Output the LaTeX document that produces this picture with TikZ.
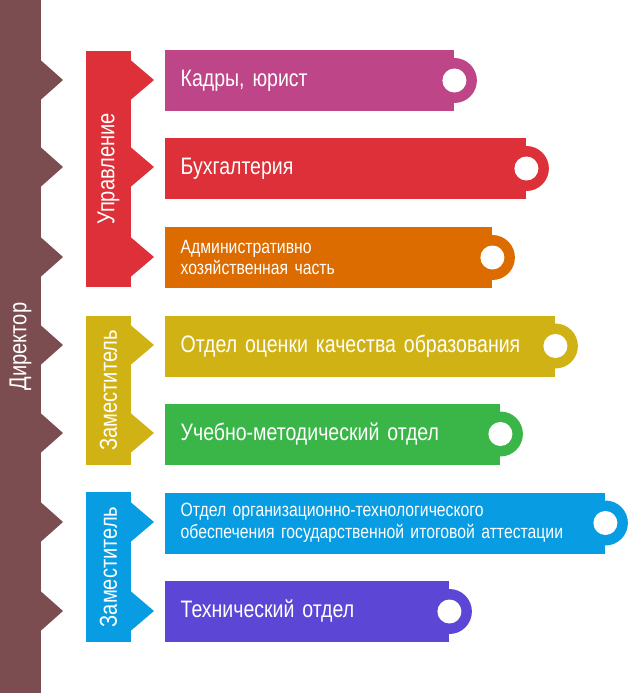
\documentclass[tikz,border=0pt]{standalone}
\usepackage{fontspec}
\setmainfont{Liberation Sans}[FakeStretch=0.82]
\usetikzlibrary{positioning}
\definecolor{orgbrown}{RGB}{124,77,80}
\definecolor{orgred}{RGB}{221,48,56}
\definecolor{orgmag}{RGB}{190,69,136}
\definecolor{orgorange}{RGB}{220,108,0}
\definecolor{orgmust}{RGB}{209,178,20}
\definecolor{orggreen}{RGB}{58,182,72}
\definecolor{orgblue}{RGB}{8,156,226}
\definecolor{orgpurple}{RGB}{91,70,214}
\newcommand\tightspace{\fontdimen2\font=0.2em\fontdimen3\font=0pt\fontdimen4\font=0pt\relax}
\newcommand\deptbig{\fontsize{23.8}{27}\selectfont\tightspace}
\newcommand\deptsmall{\fontsize{19.2}{21.5}\selectfont\tightspace}
\tikzset{
  dirbar/.style={fill=orgbrown,rotate=90,minimum width=693,minimum height=41,inner sep=0pt,
                 text=white,font=\fontsize{24.5}{27}\selectfont},
  grpbar/.style={rotate=90,minimum height=45,inner sep=0pt,text=white,
                 font=\fontsize{24.5}{27}\selectfont},
  deptbox/.style={anchor=west,minimum height=61,inner xsep=15.5,inner ysep=0,align=left,text=white},
  tabdisk/.style={circle,minimum size=45,inner sep=0pt},
  tabhole/.style={circle,fill=white,minimum size=24,inner sep=0pt},
}
\begin{document}
\begin{tikzpicture}[x=1pt,y=-1pt]
\useasboundingbox (0,0) rectangle (628,693);

% ============ director bar with its teeth ============
\node[dirbar] (dir) at (20.5,346.5) {Директор};
\foreach \y in {80,167,257,345,433,522,611} {
  \fill[orgbrown] (40.5,\y-20) -- (63,\y) -- (40.5,\y+20) -- cycle;
}

% ============ group bars ============
\node[grpbar,fill=orgred,minimum width=236] (upr) at (108.5,169) {Управление};
\node[grpbar,fill=orgmust,minimum width=149] (zam1) at (108.5,390.5) {Заместитель};
\node[grpbar,fill=orgblue,minimum width=150] (zam2) at (108.5,567) {Заместитель};
\foreach \y/\col in {80/orgred,167/orgred,257/orgred,345/orgmust,433/orgmust,522/orgblue,611/orgblue} {
  \fill[\col] (130.5,\y-20) -- (154,\y) -- (130.5,\y+20) -- cycle;
}

% ============ departments ============
\foreach \i/\y/\w/\col/\fs/\lab in {%
  1/80.5/289/orgmag/\deptbig/{Кадры, юрист},
  2/168.5/361/orgred/\deptbig/{Бухгалтерия},
  3/257.5/327/orgorange/\deptsmall/{Административно\\хозяйственная часть},
  4/346/390/orgmust/\deptbig/{Отдел оценки качества образования},
  5/434/335/orggreen/\deptbig/{Учебно-методический отдел},
  6/523/440/orgblue/\deptsmall/{Отдел организационно-технологического\\обеспечения государственной итоговой аттестации},
  7/611.5/284/orgpurple/\deptbig/{Технический отдел}} {
  \pgfmathsetmacro\tw{\w-31}
  \node[deptbox,fill=\col,text width=\tw pt,font=\fs] (d\i) at (165,\y) {\lab};
  \node[tabdisk,fill=\col] (t\i) at (d\i.east) {};
  \node[tabhole] (h\i) at (d\i.east) {};
}
\end{tikzpicture}
\end{document}
